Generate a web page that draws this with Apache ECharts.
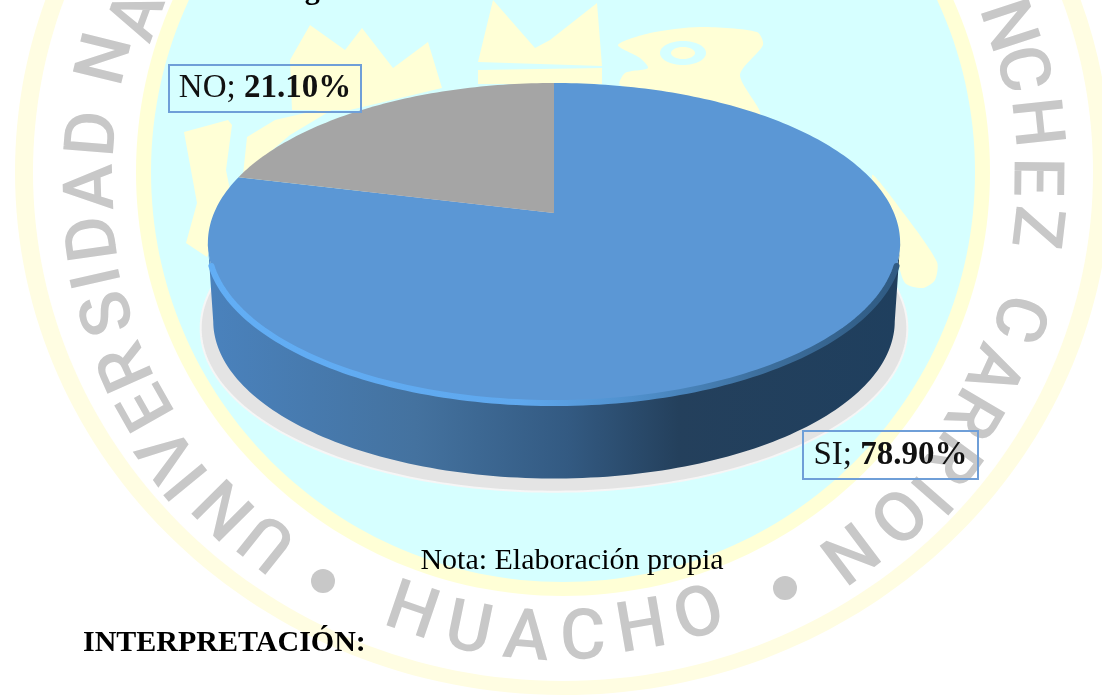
<!DOCTYPE html>
<html><head><meta charset="utf-8">
<style>html,body{margin:0;padding:0;background:#fff}#c{width:1102px;height:696px}</style>
<script src="https://cdn.jsdelivr.net/npm/echarts@6/dist/echarts.min.js"></script>
</head><body><div id="c"></div>
<script>
const categories = ['SI', 'NO'];
const values = [78.9, 21.1];
const labelText = ['78.90%', '21.10%'];
const sliceColors = ['#5b97d5', '#a5a5a5'];

// Watermark lettering: [glyph, x, y]
const ringLetters = [
 ['A',141,17],['N',109,60],['D',97,134],['A',95,187],['D',97,238],['I',102,277],['S',112,312],
 ['R',130,365],['E',151,405],['V',172,451],['I',191,478],['N',228,505],['U',271,538],
 ['N',846,548],['O',894,511],['I',927,491],['R',948,455],['R',969,411],['A',990,368],['C',1015,317],
 ['Z',1032,227],['E',1032,177],['H',1032,123],['C',1018,70],['N',1004,27]
];
const bottomLetters = [['H',411,615],['U',468,633],['A',526,641],['C',583,641],['H',642,631],['O',700,618]];
const ringDots = [[323,581],[785,588]];

const WM = {cx:563, cy:172};
const PIE = {cx:554, cy:213, b:340, a:154.4, k:0.1875};
function project(theta, s, dy){
  const u = Math.sin(theta)*s, v = Math.cos(theta)*s, d = 1 + PIE.k*v;
  return [PIE.cx + PIE.b*u/d, PIE.cy - PIE.a*v/d + (dy||0)];
}
function arc(t0, t1, s, dy){
  const pts = [], n = Math.max(8, Math.ceil(Math.abs(t1-t0)/0.02));
  for(let i=0;i<=n;i++) pts.push(project(t0+(t1-t0)*i/n, s, dy));
  return pts;
}
const FRONT0 = Math.PI - Math.acos(PIE.k), FRONT1 = Math.PI + Math.acos(PIE.k);
const total = values.reduce((a,b)=>a+b,0);

const yellow = '#ffffd6', teal = '#d6ffff';
function shape(points, smooth){ return {type:'polygon', silent:true, z:2, shape:{points, smooth:smooth||0}, style:{fill:yellow}}; }
const wm = [];
wm.push({type:'ellipse', silent:true, z:0, shape:{cx:WM.cx,cy:WM.cy,rx:548,ry:523}, style:{fill:'#fffde2'}});
wm.push({type:'ellipse', silent:true, z:0, shape:{cx:WM.cx,cy:WM.cy,rx:530,ry:509}, style:{fill:'#ffffff'}});
wm.push({type:'ellipse', silent:true, z:0, shape:{cx:WM.cx,cy:WM.cy,rx:427,ry:424}, style:{fill:yellow}});
wm.push({type:'ellipse', silent:true, z:1, shape:{cx:WM.cx,cy:WM.cy,rx:412,ry:410}, style:{fill:teal}});
wm.push(shape([[290,60],[310,25],[345,50],[362,28],[393,68],[428,42],[442,88],[350,110],[292,110]]));
wm.push(shape([[184,132],[228,120],[232,125],[226,170],[232,200],[207,257],[186,243],[197,203]]));
wm.push(shape([[243,175],[247,137],[275,120],[340,105],[290,135]]));
wm.push(shape([[478,62],[493,0],[535,48],[550,40],[597,3],[602,66]]));
wm.push(shape([[478,70],[602,68],[602,84],[478,84]]));
wm.push(shape([[618,45],[650,33],[700,27],[757,32],[763,45],[740,75],[760,115],[700,110],[620,85],[625,73],[648,68],[640,58]],0.25));
wm.push({type:'ellipse', silent:true, z:3, shape:{cx:683,cy:53,rx:23,ry:12}, style:{fill:teal}});
wm.push({type:'ellipse', silent:true, z:3, shape:{cx:683,cy:53,rx:12,ry:6}, style:{fill:yellow}});
wm.push(shape([[872,175],[905,215],[937,262],[935,280],[923,288],[905,283],[895,250]],0.25));
ringLetters.forEach(([c,x,y])=>{
  const r = Math.atan2(x-WM.cx, WM.cy-y);
  wm.push({type:'text', silent:true, z:4, x, y, rotation:-r,
    style:{text:c, font:'500 70px Roboto', fill:'#c8c8c8', align:'center', verticalAlign:'middle'}});
});
bottomLetters.forEach(([c,x,y])=>{
  const r = Math.atan2(x-WM.cx, WM.cy-y);
  wm.push({type:'text', silent:true, z:4, x, y, rotation:-(r+Math.PI),
    style:{text:c, font:'500 70px Roboto', fill:'#c8c8c8', align:'center', verticalAlign:'middle'}});
});
ringDots.forEach(([x,y])=>wm.push({type:'circle', silent:true, z:4, shape:{cx:x,cy:y,r:12}, style:{fill:'#c8c8c8'}}));
// caption text
wm.push({type:'text', silent:true, z:10, x:278, y:6, style:{text:'Figura 1: Nivel de Gestión del Conocimiento', font:'bold 30px "Liberation Serif"', fill:'#000', align:'left', verticalAlign:'bottom', lineHeight:30}});
wm.push({type:'text', silent:true, z:10, x:572, y:561, style:{text:'Nota: Elaboración propia', font:'30px "Liberation Serif"', fill:'#000', align:'center', verticalAlign:'middle'}});
wm.push({type:'text', silent:true, z:10, x:83, y:643, style:{text:'INTERPRETACIÓN:', font:'bold 30px "Liberation Serif"', fill:'#000', align:'left', verticalAlign:'middle'}});

function renderSlice(params, api){
  const i = params.dataIndex;
  let before = 0; for(let j=0;j<i;j++) before += values[j];
  const t0 = before/total*2*Math.PI, t1 = (before+api.value(1))/total*2*Math.PI;
  const children = [];
  const a0 = Math.max(t0, FRONT0), a1 = Math.min(t1, FRONT1);
  if(a1 > a0){
    const top = arc(a0,a1,1,0), bot = arc(a1,a0,0.985,79);
    children.push({type:'polygon', shape:{points:arc(0,2*Math.PI,1.02,84)}, style:{fill:'#e4e4e4', stroke:'#f6f6f6', lineWidth:2}});
    children.push({type:'polygon', shape:{points:top.concat(bot)}, style:{
      fill:{type:'linear',x:0,y:0,x2:1,y2:0,colorStops:[
        {offset:0,color:'#4a82bd'},{offset:0.3,color:'#44729f'},{offset:0.52,color:'#335a82'},{offset:0.68,color:'#24405c'},{offset:1,color:'#1f3f5e'}]}}});
  }
  children.push({type:'polygon', shape:{points:[[PIE.cx,PIE.cy]].concat(arc(t0,t1,1,0))}, style:{fill:api.visual('color')}});
  if(a1 > a0){
    children.push({type:'polyline', shape:{points:arc(a1-0.14,a0+0.14,1,0)}, style:{fill:'none', lineWidth:6, lineCap:'round',
      stroke:{type:'linear',x:0,y:0,x2:1,y2:0,colorStops:[
        {offset:0,color:'#62aef5'},{offset:0.45,color:'#5fa8ee'},{offset:0.62,color:'#4f8fcb'},{offset:0.8,color:'#3d6f9d'},{offset:1,color:'#2f5a82'}]}}});
  }
  return {type:'group', children};
}
const labelBox = [[803,431,175,48],[169,65,192,47]];
function renderLabel(params, api){
  const i = params.dataIndex;
  const [x,y,w,h] = labelBox[i];
  return {type:'group', x, y, children:[
    {type:'rect', shape:{x:0,y:0,width:w,height:h}, style:{fill:'rgba(255,255,255,0)', stroke:'#6f9fd8', lineWidth:2}},
    {type:'text', x:w/2, y:h/2, style:{
      rich:{n:{font:'33px "Liberation Serif"',fill:'#111'}, b:{font:'bold 33px "Liberation Serif"',fill:'#111'}},
      text:'{n|'+categories[i]+'; }{b|'+labelText[i]+'}', align:'center', verticalAlign:'middle'}}
  ]};
}
const rows = categories.map((c,i)=>({name:c, value:[i,values[i]], itemStyle:{color:sliceColors[i]}}));
const option = {
  animation:false,
  backgroundColor:'#ffffff',
  graphic:{elements:wm},
  series:[
   {type:'custom', coordinateSystem:'none', z:20, renderItem:renderSlice, silent:true, data:rows},
   {type:'custom', coordinateSystem:'none', z:30, renderItem:renderLabel, silent:true, data:rows}
  ]
};
const chart = echarts.init(document.getElementById('c'),null,{renderer:'canvas'});
chart.setOption(option);
</script></body></html>
